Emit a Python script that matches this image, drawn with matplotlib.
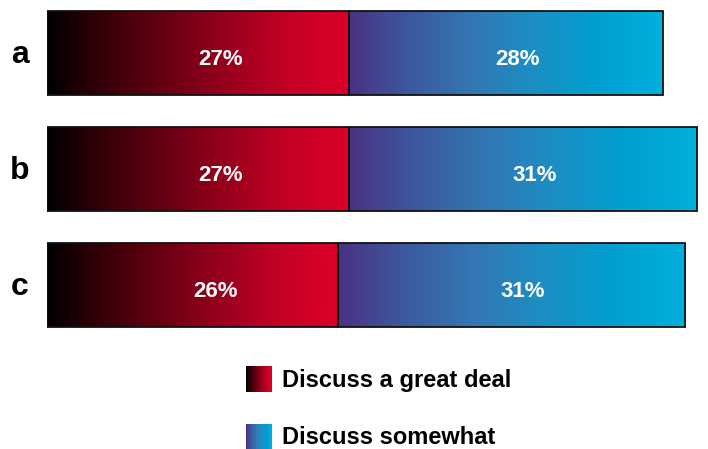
import numpy as np
import matplotlib
matplotlib.use("Agg")
import matplotlib.pyplot as plt
from matplotlib.colors import LinearSegmentedColormap

# Share of respondents per group
groups = ["a", "b", "c"]
great_deal = [27, 27, 26]
somewhat = [28, 31, 31]
series_names = ["Discuss a great deal", "Discuss somewhat"]

red_cmap = LinearSegmentedColormap.from_list(
    "reds", ["#000000", "#3a0008", "#6a0012", "#9a001e", "#c40026", "#dc0028"])
blue_cmap = LinearSegmentedColormap.from_list(
    "blues", ["#4a3282", "#3c5aa0", "#3278b4", "#1a90c4", "#00a0d2", "#00b0dc"])

W, H = 708, 449
fig = plt.figure(figsize=(W / 100, H / 100), dpi=100)
ax = fig.add_axes([47 / W, 0, 1 - 47 / W, 1])
y = np.arange(len(groups))
# bar centres at 53, 169, 285 px from the top
top_px, step = 53, 116
ax.axis("off")

grad = np.linspace(0, 1, 256).reshape(1, -1)
bar_h = 84 / step

def gradient_bars(left, widths, cmap):
    bars = ax.barh(y, widths, left=left, height=bar_h, facecolor="none",
                   edgecolor="#111111", linewidth=1.3, zorder=3)
    for b in bars:
        x0, y0 = b.get_x(), b.get_y()
        im = ax.imshow(grad, cmap=cmap, aspect="auto", interpolation="bicubic",
                       extent=[x0, x0 + b.get_width(), y0 + b.get_height(), y0],
                       zorder=2)
        im.set_clip_path(b)
    return bars

gradient_bars(0, great_deal, red_cmap)
gradient_bars(great_deal, somewhat, blue_cmap)
ax.set_xlim(0, (W - 47) / 11.2)
ax.set_ylim((H - top_px) / step, -top_px / step)

label_drop = 12 / step  # baseline sits a little below the bar centre
for i in range(len(groups)):
    ax.text(great_deal[i] / 2 + 2.0, y[i] + label_drop, f"{great_deal[i]}%",
            color="white", fontsize=16, fontweight="bold", ha="center",
            va="baseline", zorder=4, family="Liberation Sans")
    ax.text(great_deal[i] + somewhat[i] / 2 + 1.0, y[i] + label_drop,
            f"{somewhat[i]}%", color="white", fontsize=16, fontweight="bold",
            ha="center", va="baseline", zorder=4, family="Liberation Sans")
    fig.text(20 / W, 1 - (top_px + i * step + 10) / H, groups[i], fontsize=23,
             fontweight="bold", ha="center", va="baseline",
             family="Liberation Sans")

# Legend with gradient swatches
for j, (name, cmap) in enumerate(zip(series_names, [red_cmap, blue_cmap])):
    ytop = 366 + j * 58
    sw = fig.add_axes([246 / W, 1 - (ytop + 26) / H, 26 / W, 26 / H])
    sw.imshow(grad, cmap=cmap, aspect="auto", interpolation="bicubic")
    sw.axis("off")
    fig.text(282 / W, 1 - (ytop + 14) / H, name, fontsize=17, fontweight="bold",
             ha="left", va="center", family="Liberation Sans")

fig.savefig("out.png", dpi=100)
